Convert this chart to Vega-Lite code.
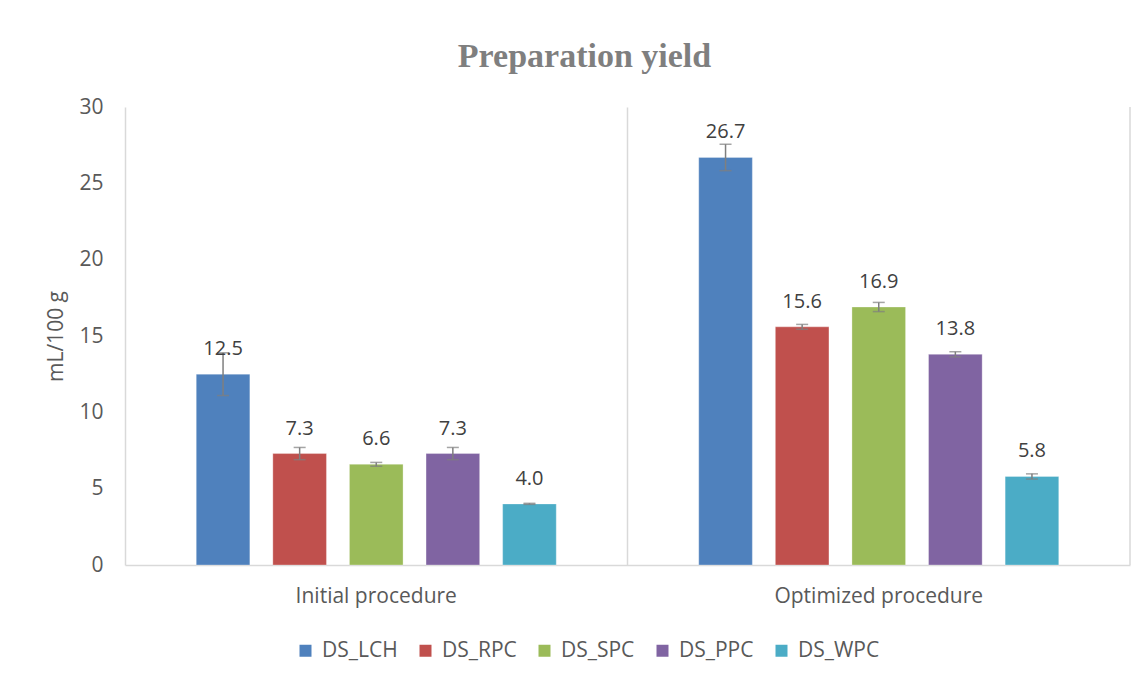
{
  "$schema": "https://vega.github.io/schema/vega-lite/v6.json",
  "autosize": {"type": "none"},
  "width": 1005,
  "height": 458,
  "padding": {"left": 125, "top": 107, "right": 15, "bottom": 114},
  "background": "white",
  "config": {
    "view": {"stroke": null},
    "font": "Open Sans"
  },
  "title": {
    "text": "Preparation yield",
    "font": "Liberation Serif",
    "fontSize": 34,
    "fontWeight": "bold",
    "color": "#7f7f7f",
    "anchor": "middle",
    "dx": -43,
    "offset": 22
  },
  "data": {
    "values": [
      {"group": "Initial procedure", "series": "DS_LCH", "value": 12.5, "lo": 11.1, "hi": 13.9},
      {"group": "Initial procedure", "series": "DS_RPC", "value": 7.3, "lo": 6.9, "hi": 7.7},
      {"group": "Initial procedure", "series": "DS_SPC", "value": 6.6, "lo": 6.47, "hi": 6.72},
      {"group": "Initial procedure", "series": "DS_PPC", "value": 7.3, "lo": 6.9, "hi": 7.7},
      {"group": "Initial procedure", "series": "DS_WPC", "value": 4.0, "lo": 3.97, "hi": 4.04},
      {"group": "Optimized procedure", "series": "DS_LCH", "value": 26.7, "lo": 25.83, "hi": 27.56},
      {"group": "Optimized procedure", "series": "DS_RPC", "value": 15.6, "lo": 15.44, "hi": 15.76},
      {"group": "Optimized procedure", "series": "DS_SPC", "value": 16.9, "lo": 16.6, "hi": 17.2},
      {"group": "Optimized procedure", "series": "DS_PPC", "value": 13.8, "lo": 13.63, "hi": 13.97},
      {"group": "Optimized procedure", "series": "DS_WPC", "value": 5.8, "lo": 5.63, "hi": 5.97}
    ]
  },
  "encoding": {
    "x": {
      "field": "group",
      "type": "nominal",
      "sort": null,
      "scale": {"paddingInner": 0, "paddingOuter": 0},
      "axis": {
        "title": null,
        "labelAngle": 0,
        "labelFontSize": 21,
        "labelColor": "#595959",
        "labelPadding": 20,
        "labelLimit": 0,
        "ticks": false,
        "domainColor": "#d9d9d9",
        "domainWidth": 1.5,
        "grid": true,
        "gridColor": "#d9d9d9",
        "gridWidth": 1.5,
        "bandPosition": 0
      }
    },
    "xOffset": {
      "field": "series",
      "type": "nominal",
      "sort": null,
      "scale": {"paddingInner": 0.3, "paddingOuter": 0.93}
    }
  },
  "layer": [
    {
      "mark": {"type": "bar", "stroke": "white", "strokeOpacity": 0.3, "strokeWidth": 1},
      "encoding": {
        "y": {
          "field": "value",
          "type": "quantitative",
          "scale": {"domain": [0, 30], "nice": false},
          "axis": {
            "title": "mL/100 g",
            "titleFontSize": 21,
            "titleFontWeight": "normal",
            "titleColor": "#595959",
            "titlePadding": 12,
            "values": [0, 5, 10, 15, 20, 25, 30],
            "labelFontSize": 21,
            "labelColor": "#595959",
            "labelPadding": 22,
            "ticks": false,
            "domain": false,
            "grid": false
          }
        },
        "color": {
          "field": "series",
          "type": "nominal",
          "sort": null,
          "scale": {
            "domain": ["DS_LCH", "DS_RPC", "DS_SPC", "DS_PPC", "DS_WPC"],
            "range": ["#4f81bd", "#c0504d", "#9bbb59", "#8064a2", "#4bacc6"]
          },
          "legend": {
            "title": null,
            "orient": "none",
            "direction": "horizontal",
            "columns": 5,
            "legendX": 170,
            "legendY": 533,
            "symbolType": "square",
            "symbolSize": 144,
            "symbolStrokeWidth": 0,
            "labelFontSize": 21,
            "labelColor": "#595959",
            "labelOffset": 6,
            "columnPadding": 17,
            "padding": 0
          }
        }
      }
    },
    {
      "mark": {"type": "rule", "color": "#7f7f7f", "strokeWidth": 1.5},
      "encoding": {
        "y": {"field": "lo", "type": "quantitative"},
        "y2": {"field": "hi"}
      }
    },
    {
      "mark": {"type": "tick", "color": "#7f7f7f", "size": 12, "thickness": 1.5},
      "encoding": {
        "y": {"field": "lo", "type": "quantitative"}
      }
    },
    {
      "mark": {"type": "tick", "color": "#7f7f7f", "size": 12, "thickness": 1.5},
      "encoding": {
        "y": {"field": "hi", "type": "quantitative"}
      }
    },
    {
      "mark": {"type": "text", "fontSize": 20, "color": "#404040", "baseline": "middle", "dy": -25},
      "encoding": {
        "y": {"field": "value", "type": "quantitative"},
        "text": {"field": "value", "type": "quantitative", "format": ".1f"}
      }
    },
    {
      "data": {"values": [{"edge": "right"}]},
      "mark": {"type": "rule", "color": "#d9d9d9", "strokeWidth": 1.5},
      "encoding": {
        "x": {"datum": "Optimized procedure", "type": "nominal", "bandPosition": 1},
        "xOffset": null
      }
    }
  ]
}
